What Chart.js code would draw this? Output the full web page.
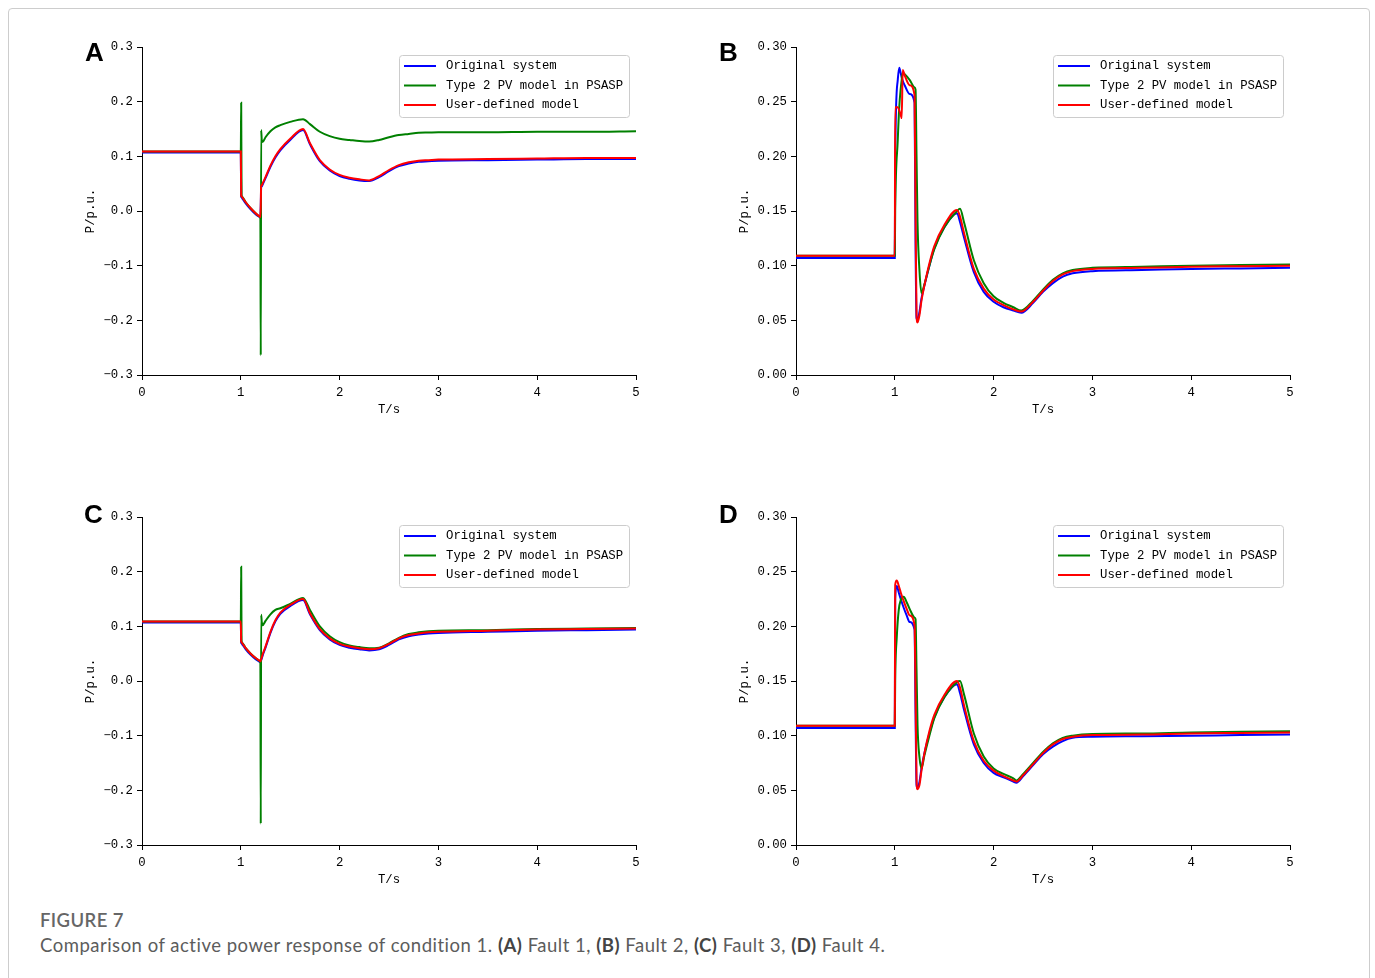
<!DOCTYPE html>
<html>
<head>
<meta charset="utf-8">
<script src="https://cdn.jsdelivr.net/npm/chart.js@4.4.1/dist/chart.umd.min.js"></script>
<style>
  body { margin: 0; background: #fff; width: 1375px; height: 978px; overflow: hidden; position: relative; }
  .frame { position: absolute; left: 8px; top: 8px; width: 1360px; height: 1000px; border: 1px solid #cdcdcd; border-radius: 4px; }
  canvas { position: absolute; }
  .letter { position: absolute; font: bold 26px "Liberation Sans", Arial, sans-serif; line-height: 26px; color: #000; }
  .fig { position: absolute; left: 40px; top: 909px; font: 600 18.5px Lato, "Open Sans", sans-serif; letter-spacing: 0.4px; color: #666; }
  .cap { position: absolute; left: 40px; top: 934px; font: 400 18.5px Lato, "Open Sans", sans-serif; letter-spacing: 0.5px; color: #5c5c5c; white-space: nowrap; }
  .cap b { font-weight: 700; color: #444; }
</style>
</head>
<body>
<div class="frame"></div>
<canvas id="chartA" width="580" height="390" style="left:70px;top:35px"></canvas>
<canvas id="chartB" width="580" height="390" style="left:724px;top:35px"></canvas>
<canvas id="chartC" width="580" height="390" style="left:70px;top:505px"></canvas>
<canvas id="chartD" width="580" height="390" style="left:724px;top:505px"></canvas>
<div class="letter" style="left:85px;top:39px">A</div>
<div class="letter" style="left:719px;top:39px">B</div>
<div class="letter" style="left:84px;top:501px">C</div>
<div class="letter" style="left:719px;top:501px">D</div>
<div class="fig">FIGURE 7</div>
<div class="cap">Comparison of active power response of condition 1. <b>(A)</b> Fault 1, <b>(B)</b> Fault 2, <b>(C)</b> Fault 3, <b>(D)</b> Fault 4.</div>

<script>
const seriesLabels = ['Original system', 'Type 2 PV model in PSASP', 'User-defined model'];
const seriesColors = ['#0000ff', '#008000', '#ff0000'];

// Fault 1 (A)
const tA = [0, 1.0, 1.004, 1.008, 1.012, 1.05, 1.1, 1.15, 1.19, 1.198, 1.202, 1.206, 1.212, 1.22, 1.25, 1.3, 1.35, 1.4, 1.5, 1.63,
  1.7, 1.8, 1.9, 2.0, 2.1, 2.2, 2.3, 2.4, 2.5, 2.6, 2.7, 2.8, 2.9, 3.0, 3.5, 4.0, 4.5, 5.0];
const originalA = [0.107, 0.107, 0.026, 0.025, 0.024, 0.014, 0.003, -0.006, -0.011, -0.012, 0.008, 0.044, 0.045, 0.048, 0.060, 0.081, 0.098, 0.111, 0.130, 0.148,
  0.122, 0.091, 0.074, 0.064, 0.059, 0.056, 0.055, 0.062, 0.073, 0.082, 0.087, 0.090, 0.091, 0.092, 0.093, 0.094, 0.095, 0.095];
const pvA = [0.109, 0.109, 0.198, 0.028, 0.026, 0.016, 0.005, -0.004, -0.010, -0.011, -0.264, 0.148, 0.130, 0.126, 0.135, 0.146, 0.153, 0.157, 0.163, 0.168,
  0.159, 0.145, 0.137, 0.132, 0.130, 0.128, 0.127, 0.130, 0.135, 0.139, 0.141, 0.143, 0.1435, 0.144, 0.144, 0.145, 0.145, 0.146];
const userA = [0.109, 0.109, 0.028, 0.027, 0.026, 0.016, 0.005, -0.004, -0.010, -0.011, 0.010, 0.046, 0.047, 0.050, 0.062, 0.083, 0.100, 0.113, 0.132, 0.150,
  0.124, 0.093, 0.076, 0.066, 0.061, 0.058, 0.056, 0.064, 0.075, 0.084, 0.089, 0.092, 0.093, 0.094, 0.095, 0.096, 0.097, 0.097];

// Fault 2 (B)
const tB = [0, 1.0, 1.004, 1.03, 1.045, 1.06, 1.07, 1.08, 1.1, 1.15, 1.2, 1.21, 1.22, 1.23, 1.25, 1.27, 1.3, 1.35, 1.4, 1.5, 1.63, 1.66,
  1.7, 1.8, 1.9, 2.0, 2.1, 2.2, 2.28, 2.4, 2.5, 2.6, 2.7, 2.8, 3.0, 3.5, 4.0, 4.5, 5.0];
const originalB = [0.107, 0.107, 0.200, 0.270, 0.281, 0.276, 0.272, 0.269, 0.265, 0.257, 0.249, 0.120, 0.052, 0.050, 0.058, 0.070, 0.082, 0.100, 0.116, 0.135, 0.148, 0.140,
  0.126, 0.094, 0.076, 0.067, 0.062, 0.059, 0.057, 0.066, 0.076, 0.084, 0.090, 0.093, 0.095, 0.096, 0.097, 0.0975, 0.098];
const pvB = [0.109, 0.109, 0.150, 0.215, 0.245, 0.262, 0.270, 0.2765, 0.275, 0.270, 0.263, 0.261, 0.200, 0.140, 0.095, 0.075, 0.083, 0.100, 0.115, 0.135, 0.150, 0.152,
  0.140, 0.105, 0.084, 0.072, 0.066, 0.062, 0.059, 0.068, 0.078, 0.087, 0.093, 0.096, 0.098, 0.099, 0.100, 0.1005, 0.101];
const userB = [0.109, 0.109, 0.245, 0.245, 0.242, 0.238, 0.235, 0.279, 0.274, 0.265, 0.256, 0.150, 0.055, 0.048, 0.055, 0.068, 0.082, 0.102, 0.118, 0.137, 0.151, 0.145,
  0.130, 0.097, 0.079, 0.069, 0.064, 0.060, 0.058, 0.067, 0.077, 0.086, 0.092, 0.095, 0.097, 0.098, 0.099, 0.0995, 0.100];

// Fault 3 (C)
const tC = tA;
const originalC = [0.107, 0.107, 0.070, 0.069, 0.068, 0.058, 0.048, 0.040, 0.035, 0.034, 0.036, 0.038, 0.041, 0.046, 0.061, 0.088, 0.109, 0.123, 0.137, 0.148,
  0.122, 0.093, 0.076, 0.066, 0.061, 0.058, 0.056, 0.058, 0.066, 0.076, 0.082, 0.085, 0.087, 0.088, 0.090, 0.092, 0.093, 0.094];
const pvC = [0.109, 0.109, 0.209, 0.072, 0.070, 0.060, 0.050, 0.042, 0.037, 0.036, -0.261, 0.121, 0.108, 0.102, 0.110, 0.122, 0.130, 0.133, 0.141, 0.152,
  0.130, 0.100, 0.082, 0.071, 0.065, 0.062, 0.060, 0.061, 0.069, 0.079, 0.086, 0.089, 0.091, 0.092, 0.093, 0.095, 0.096, 0.097];
const userC = [0.109, 0.109, 0.072, 0.071, 0.070, 0.060, 0.050, 0.042, 0.037, 0.036, 0.038, 0.040, 0.043, 0.048, 0.063, 0.090, 0.111, 0.125, 0.139, 0.150,
  0.124, 0.095, 0.078, 0.068, 0.063, 0.060, 0.058, 0.060, 0.068, 0.078, 0.084, 0.087, 0.089, 0.090, 0.092, 0.094, 0.095, 0.096];

// Fault 4 (D)
const tD = [0, 1.0, 1.004, 1.02, 1.04, 1.06, 1.09, 1.12, 1.15, 1.2, 1.21, 1.22, 1.23, 1.25, 1.27, 1.3, 1.35, 1.4, 1.5, 1.63, 1.66,
  1.7, 1.8, 1.9, 2.0, 2.1, 2.2, 2.23, 2.3, 2.4, 2.5, 2.6, 2.7, 2.8, 3.0, 3.5, 4.0, 4.5, 5.0];
const originalD = [0.107, 0.107, 0.225, 0.237, 0.231, 0.225, 0.217, 0.210, 0.204, 0.197, 0.120, 0.055, 0.052, 0.058, 0.070, 0.084, 0.102, 0.117, 0.135, 0.147, 0.139,
  0.124, 0.092, 0.075, 0.066, 0.062, 0.058, 0.057, 0.063, 0.073, 0.083, 0.090, 0.095, 0.098, 0.099, 0.0995, 0.100, 0.1005, 0.101];
const pvD = [0.109, 0.109, 0.150, 0.190, 0.215, 0.224, 0.227, 0.222, 0.216, 0.208, 0.2065, 0.160, 0.110, 0.080, 0.070, 0.082, 0.100, 0.116, 0.135, 0.149, 0.150,
  0.138, 0.102, 0.081, 0.070, 0.065, 0.061, 0.059, 0.065, 0.075, 0.085, 0.093, 0.098, 0.100, 0.1015, 0.102, 0.103, 0.1035, 0.104];
const userD = [0.109, 0.109, 0.238, 0.242, 0.237, 0.231, 0.223, 0.216, 0.210, 0.201, 0.140, 0.060, 0.051, 0.055, 0.068, 0.084, 0.104, 0.119, 0.137, 0.150, 0.144,
  0.128, 0.095, 0.077, 0.068, 0.063, 0.059, 0.058, 0.064, 0.074, 0.084, 0.092, 0.097, 0.099, 0.1005, 0.101, 0.102, 0.1025, 0.103];

const monoFont = '"Liberation Mono", "DejaVu Sans Mono", monospace';

// legend box drawn inside the plot, top right
const insideLegend = {
  id: 'insideLegend',
  afterDatasetsDraw(chart) {
    const { ctx, chartArea } = chart;
    const w = 230, h = 62;
    const x = Math.round(chartArea.right - 7 - w), y = Math.round(chartArea.top + 8);
    ctx.save();
    ctx.fillStyle = 'rgba(255,255,255,0.8)';
    ctx.strokeStyle = '#cccccc';
    ctx.lineWidth = 1;
    ctx.beginPath();
    ctx.roundRect(x + 0.5, y + 0.5, w, h, 3);
    ctx.fill();
    ctx.stroke();
    ctx.font = '12.3px ' + monoFont;
    ctx.textBaseline = 'middle';
    seriesLabels.forEach((label, i) => {
      const ly = y + 11 + i * 19.5;
      ctx.strokeStyle = seriesColors[i];
      ctx.lineWidth = 2;
      ctx.beginPath();
      ctx.moveTo(x + 5, ly);
      ctx.lineTo(x + 37, ly);
      ctx.stroke();
      ctx.fillStyle = '#000';
      ctx.fillText(label, x + 47, ly);
    });
    ctx.restore();
  }
};

function makeChart(id, t, series, yMin, yMax, yStep, digits) {
  const datasets = series.map((vals, i) => ({
    label: seriesLabels[i],
    data: t.map((x, j) => ({ x: x, y: vals[j] })),
    borderColor: seriesColors[i],
    borderWidth: 2,
    pointRadius: 0,
    cubicInterpolationMode: 'monotone',
    fill: false,
    order: 3 - i
  }));
  const tickFont = { family: monoFont, size: 12.3 };
  return new Chart(document.getElementById(id), {
    type: 'line',
    data: { datasets },
    plugins: [insideLegend],
    options: {
      responsive: false,
      animation: false,
      devicePixelRatio: 1,
      layout: { padding: { left: 13, top: 12, right: 14, bottom: 8 } },
      plugins: { legend: { display: false }, tooltip: { enabled: false } },
      scales: {
        x: {
          type: 'linear',
          min: 0,
          max: 5,
          afterFit: (s) => { s.height = 42; },
          ticks: { stepSize: 1, color: '#000', font: tickFont, padding: 5, maxRotation: 0 },
          grid: { drawOnChartArea: false, tickLength: 5, tickColor: '#000' },
          border: { color: '#000', width: 1 },
          title: { display: true, text: 'T/s', color: '#000', font: tickFont, padding: 0 }
        },
        y: {
          min: yMin,
          max: yMax,
          afterFit: (s) => { s.width = 59; },
          ticks: {
            stepSize: yStep,
            color: '#000',
            font: tickFont,
            padding: 4,
            callback: (v) => {
              const r = Number(v.toFixed(digits));
              return (r < 0 ? '\u2212' : '') + Math.abs(r).toFixed(digits);
            }
          },
          grid: { drawOnChartArea: false, tickLength: 5, tickColor: '#000' },
          border: { color: '#000', width: 1 },
          title: { display: true, text: 'P/p.u.', color: '#000', font: tickFont, padding: 0 }
        }
      }
    }
  });
}

makeChart('chartA', tA, [originalA, pvA, userA], -0.3, 0.3, 0.1, 1);
makeChart('chartB', tB, [originalB, pvB, userB], 0, 0.3, 0.05, 2);
makeChart('chartC', tC, [originalC, pvC, userC], -0.3, 0.3, 0.1, 1);
makeChart('chartD', tD, [originalD, pvD, userD], 0, 0.3, 0.05, 2);
</script>
</body>
</html>
